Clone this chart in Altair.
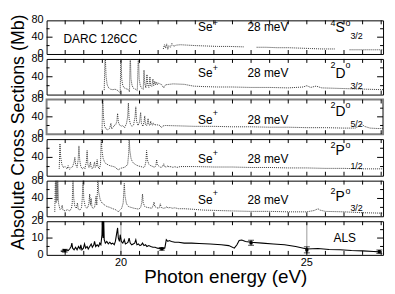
import altair as alt
import pandas as pd

FONT = "Liberation Sans"

# ---------------- data ----------------
x_ticks = [18.5, 19.0, 19.5, 20.0, 20.5, 21.0, 21.5, 22.0, 22.5,
           23.0, 23.5, 24.0, 24.5, 25.0, 25.5, 26.0, 26.5, 27.0]
x_labels = [20, 25]
y_labels_theory = [0, 40, 80]
y_labels_als = [0, 10, 20]

# 4S°3/2
s4_e = [21.14, 21.17, 21.20, 21.23, 21.26, 21.29, 21.33, 21.37, 21.42, 21.48,
        21.60, 21.80, 22.00, 22.30, 22.60, 22.90, 23.30,
        23.65, 23.90, 24.20, 24.50, 24.80, 25.10, 25.40, 25.75,
        26.15, 26.50, 26.80, 27.05]
s4_v = [12, 22, 14, 24, 11, 20, 16, 25, 18, 21,
        22, 21, 20, 19, 18, 18, 17,
        16, 16, 15, 15, 14, 13, 12, 12,
        10, 10, 10, 10]
s4_seg = [0, 0, 0, 0, 0, 0, 0, 0, 0, 0,
          0, 0, 0, 0, 0, 0, 0,
          1, 1, 1, 1, 1, 1, 1, 1,
          2, 2, 2, 2]

# 2D°3/2
d3_e = [19.55, 19.575, 19.60, 19.63, 19.67, 19.72, 19.78, 19.84, 19.90, 19.95,
        19.98, 20.00, 20.02, 20.05, 20.09, 20.14, 20.19, 20.23, 20.25, 20.27,
        20.30, 20.34, 20.39, 20.44, 20.47, 20.49, 20.52, 20.56, 20.60, 20.62,
        20.64, 20.67, 20.70, 20.72, 20.75, 20.78, 20.80, 20.83, 20.86, 20.88,
        20.91, 20.93, 20.96, 20.98, 21.01, 21.05, 21.10, 21.15, 21.20, 21.40,
        21.70, 21.95, 22.20, 22.60, 23.00, 23.50, 24.00, 24.50, 24.90, 25.00,
        25.10, 25.25, 25.40, 25.80, 26.20, 26.60, 27.05]
d3_v = [10, 95, 40, 22, 15, 12, 11, 12, 10, 6,
        3, 95, 35, 20, 15, 13, 12, 6, 95, 35,
        20, 14, 12, 9, 95, 35, 20, 14, 12, 55,
        25, 15, 45, 22, 16, 40, 20, 18, 35, 20,
        30, 22, 28, 22, 26, 24, 22, 15, 22, 24,
        23, 19, 18, 17, 17, 16, 16, 15, 17, 20,
        16, 19, 15, 14, 13, 12, 11]

# 2D°5/2
d5_e = [19.49, 19.51, 19.53, 19.56, 19.60, 19.65, 19.70, 19.73, 19.75, 19.78,
        19.82, 19.86, 19.89, 19.91, 19.93, 19.96, 20.00, 20.05, 20.10, 20.15,
        20.18, 20.20, 20.22, 20.26, 20.30, 20.34, 20.38, 20.40, 20.42, 20.46,
        20.50, 20.53, 20.55, 20.59, 20.62, 20.64, 20.66, 20.70, 20.73, 20.75,
        20.78, 20.80, 20.82, 20.85, 20.87, 20.90, 20.95, 21.00, 21.05, 21.09,
        21.13, 21.20, 21.60, 22.00, 22.50, 23.00, 23.50, 24.00, 24.50, 25.00,
        25.50, 26.00, 26.30, 26.42, 26.48, 26.55, 26.70, 26.90, 27.05]
d5_v = [0, 95, 40, 18, 12, 10, 14, 25, 12, 15,
        20, 22, 30, 48, 28, 22, 18, 20, 15, 25,
        40, 72, 35, 22, 18, 22, 40, 63, 30, 20,
        28, 50, 25, 18, 28, 42, 22, 20, 36, 22,
        20, 30, 22, 21, 26, 21, 22, 21, 20, 15,
        19, 20, 19, 18, 18, 17, 17, 16, 16, 15,
        15, 14, 14, 19, 23, 18, 14, 13, 13]

# 2P°1/2
p1_e = [18.34, 18.36, 18.38, 18.41, 18.45, 18.50, 18.55, 18.58,
        18.62, 18.66, 18.70, 18.74, 18.76, 18.78, 18.82, 18.85,
        18.87, 18.89, 18.92, 18.96, 19.00, 19.03, 19.07, 19.09,
        19.11, 19.14, 19.16, 19.18, 19.20, 19.23, 19.26, 19.29,
        19.31, 19.34, 19.36, 19.38, 19.42, 19.45, 19.47, 19.49,
        19.52, 19.56, 19.60, 19.65, 19.70, 19.75, 19.80, 19.86,
        19.90, 19.94, 19.98, 20.03, 20.08, 20.13, 20.18, 20.21,
        20.22, 20.24, 20.27, 20.31, 20.36, 20.42, 20.48, 20.54,
        20.60, 20.64, 20.67, 20.69, 20.71, 20.75, 20.80, 20.86,
        20.90, 20.94, 20.96, 20.98, 21.03, 21.08, 21.12, 21.15,
        21.17, 21.22, 21.27, 21.29, 21.35, 21.40, 21.45, 21.50,
        21.60, 22.00, 22.50, 23.00, 23.50, 24.00, 24.50, 25.00,
        25.50, 26.00, 26.50, 27.05]
p1_v = [15, 70, 40, 25, 18, 20, 15, 22,
        14, 18, 20, 30, 40, 25, 18, 35,
        65, 35, 20, 15, 18, 15, 30, 55,
        25, 18, 22, 30, 18, 15, 20, 30,
        18, 22, 35, 20, 15, 25, 85, 55,
        38, 30, 26, 24, 22, 21, 20, 18,
        14, 13, 16, 17, 18, 20, 25, 50,
        85, 55, 38, 30, 26, 23, 21, 20,
        18, 20, 30, 55, 35, 25, 22, 20,
        18, 22, 35, 24, 20, 18, 20, 26,
        20, 19, 22, 19, 20, 18, 20, 18,
        20, 20, 19, 19, 18, 18, 17, 17,
        16, 16, 15, 15]

# 2P°3/2
p3_e = [18.22, 18.24, 18.255, 18.27, 18.285, 18.30, 18.32, 18.36,
        18.40, 18.42, 18.44, 18.50, 18.56, 18.62, 18.67, 18.69,
        18.71, 18.73, 18.76, 18.80, 18.83, 18.85, 18.90, 18.94,
        18.96, 18.98, 19.00, 19.04, 19.08, 19.11, 19.14, 19.16,
        19.18, 19.20, 19.22, 19.26, 19.29, 19.31, 19.33, 19.35,
        19.37, 19.38, 19.40, 19.44, 19.49, 19.55, 19.62, 19.70,
        19.78, 19.85, 19.90, 19.93, 19.97, 20.02, 20.06, 20.09,
        20.11, 20.15, 20.20, 20.27, 20.35, 20.42, 20.48, 20.53,
        20.56, 20.58, 20.60, 20.64, 20.70, 20.77, 20.83, 20.87,
        20.89, 20.91, 20.97, 21.02, 21.04, 21.06, 21.08, 21.14,
        21.20, 21.24, 21.27, 21.32, 21.38, 21.45, 21.55, 21.70,
        21.90, 22.20, 22.60, 23.00, 23.50, 24.00, 24.50, 25.00,
        25.20, 25.30, 25.35, 25.50, 26.00, 26.50, 27.05]
p3_v = [10, 95, 30, 95, 35, 90, 30, 15,
        18, 25, 14, 12, 15, 12, 18, 30,
        95, 40, 22, 18, 30, 16, 14, 20,
        40, 95, 38, 22, 18, 20, 30, 50,
        25, 40, 20, 18, 20, 30, 45, 25,
        60, 95, 55, 38, 30, 26, 22, 20,
        17, 15, 12, 10, 14, 18, 30, 74,
        45, 28, 22, 20, 18, 17, 16, 20,
        30, 50, 30, 22, 20, 19, 18, 25,
        32, 22, 19, 18, 22, 28, 20, 18,
        19, 22, 18, 20, 18, 19, 17, 17,
        16, 14, 13, 12, 11, 11, 10, 10,
        13, 17, 14, 11, 10, 8, 7]

# ALS measurement
als_e = [18.38, 18.42, 18.46, 18.50, 18.54, 18.58, 18.62, 18.66,
         18.68, 18.70, 18.74, 18.78, 18.82, 18.86, 18.90, 18.92,
         18.95, 18.99, 19.02, 19.05, 19.09, 19.12, 19.16, 19.20,
         19.23, 19.27, 19.29, 19.32, 19.36, 19.40, 19.43, 19.46,
         19.49, 19.50, 19.52, 19.535, 19.55, 19.58, 19.62, 19.66,
         19.70, 19.74, 19.78, 19.82, 19.85, 19.88, 19.91, 19.93,
         19.96, 19.98, 20.01, 20.05, 20.09, 20.12, 20.16, 20.19,
         20.22, 20.25, 20.29, 20.33, 20.37, 20.40, 20.43, 20.47,
         20.51, 20.55, 20.58, 20.62, 20.66, 20.70, 20.75, 20.80,
         20.86, 20.92, 20.98, 21.05, 21.12, 21.18, 21.20, 21.22,
         21.26, 21.30, 21.36, 21.45, 21.55, 21.70, 21.90, 22.10,
         22.40, 22.70, 22.90, 23.05, 23.12, 23.18, 23.25, 23.35,
         23.50, 23.80, 24.10, 24.40, 24.70, 25.00, 25.30, 25.60,
         25.90, 26.20, 26.50, 26.80, 26.95]
als_v = [2.5, 2.0, 3.2, 2.2, 3.0, 2.5, 3.5, 5.0,
         7.0, 4.0, 3.0, 4.5, 3.0, 5.0, 3.5, 6.0,
         3.0, 4.0, 6.5, 4.0, 5.0, 3.5, 5.0, 6.5,
         4.5, 6.0, 8.0, 5.0, 6.0, 5.0, 7.0, 6.0,
         12.0, 22.0, 10.0, 22.0, 9.0, 7.0, 8.0, 6.5,
         7.5, 6.5, 7.0, 6.0, 8.0, 12.0, 16.0, 10.0,
         8.0, 12.0, 8.0, 7.0, 9.0, 6.5, 7.0, 7.5,
         10.0, 7.0, 6.0, 6.5, 7.0, 9.0, 6.0, 6.5,
         5.5, 6.0, 7.0, 5.5, 6.0, 5.0, 5.5, 5.0,
         4.5, 4.5, 4.0, 3.8, 3.6, 4.0, 6.5, 9.0,
         8.0, 8.5, 8.0, 7.5, 7.5, 7.0, 7.0, 6.8,
         6.5, 6.0, 5.5, 4.0, 6.0, 8.5, 8.8, 8.0,
         7.5, 7.0, 6.5, 6.0, 5.0, 3.5, 3.8, 3.2,
         3.0, 2.6, 2.4, 2.0, 1.8]

err_e = [18.49, 21.10, 23.50, 25.00, 26.95]
err_v = [2.5, 3.6, 7.2, 3.0, 1.9]
err_d = [0.8, 0.8, 1.5, 1.8, 1.0]

# ---------------- chart ----------------
W = 340
XS = alt.Scale(domain=[18, 27.05], nice=False, zero=False)
XE = alt.X("e:Q", scale=XS, axis=None)


def txt(s, x, y, size, align="left", angle=0):
    return alt.Chart(pd.DataFrame({"t": [s]})).mark_text(
        align=align, baseline="middle", fontSize=size, font=FONT,
        color="black", angle=angle
    ).encode(text="t:N", x=alt.value(x), y=alt.value(y))


def frame(H, ys, ylabels, ymaj, ymin):
    xt = pd.DataFrame({"e": x_ticks})
    top = alt.Chart(xt).mark_rule(color="black", strokeWidth=1).encode(
        x=XE, y=alt.value(0), y2=alt.value(4))
    bot = alt.Chart(xt).mark_rule(color="black", strokeWidth=1).encode(
        x=XE, y=alt.value(H), y2=alt.value(H - 4))
    layers = [top, bot]
    for vals, ln in ((ymaj, 6), (ymin, 3)):
        d = pd.DataFrame({"v": vals})
        yv = alt.Y("v:Q", scale=ys, axis=None)
        layers.append(alt.Chart(d).mark_rule(color="black").encode(
            y=yv, x=alt.value(0), x2=alt.value(ln)))
        layers.append(alt.Chart(d).mark_rule(color="black").encode(
            y=yv, x=alt.value(W - ln), x2=alt.value(W)))
    lab = pd.DataFrame({"v": ylabels, "t": [str(v) for v in ylabels]})
    layers.append(alt.Chart(lab).mark_text(
        align="right", baseline="middle", fontSize=11, font=FONT, color="black"
    ).encode(y=alt.Y("v:Q", scale=ys, axis=None), x=alt.value(-3), text="t:N"))
    return layers


def term_labels(sup, letter, sub, yse, yplus, ysup, yl, ysub):
    return [
        txt("Se", 153, yse, 12),
        txt("+", 168, yplus, 9),
        txt("28 meV", 203, yse, 12),
        txt(sup, 287, ysup, 9),
        txt(letter, 292, yl, 14),
        txt("o", 302, ysup, 9),
        txt(sub, 307, ysub, 9),
    ]


def theory_panel(e, v, H, texts, seg=None, stroke="black", sw=1):
    df = pd.DataFrame({"e": e, "v": v,
                       "seg": seg if seg is not None else [0] * len(e)})
    ys = alt.Scale(domain=[0, 80], nice=False, zero=True)
    line = alt.Chart(df).mark_line(
        clip=True, color="#222", strokeWidth=0.9, strokeDash=[1, 1]
    ).encode(
        x=XE,
        y=alt.Y("v:Q", scale=ys, axis=None),
        detail="seg:N",
    )
    layers = [line] + frame(H, ys, y_labels_theory, [40], [20, 60]) + texts
    return alt.layer(*layers).properties(
        width=W, height=H,
        view=alt.ViewBackground(stroke=stroke, strokeWidth=sw))


H1, H2, H3, H4, H5, H6 = 34, 36, 35, 37, 36, 34

p1 = theory_panel(s4_e, s4_v, H1,
                  [txt("DARC 126CC", 17, 19, 12)] +
                  term_labels("4", "S", "3/2", 6.5, 2.5, 3, 8, 16),
                  seg=s4_seg)
p2 = theory_panel(d3_e, d3_v, H2,
                  term_labels("2", "D", "3/2", 14, 9, 6, 15, 27))
p3 = theory_panel(d5_e, d5_v, H3,
                  term_labels("2", "D", "5/2", 20.5, 14, 6, 13, 24.5) +
                  [txt("Absolute Cross Sections (Mb)", -28, 33, 18,
                       align="center", angle=270)],
                  stroke="#808080", sw=2)
p4 = theory_panel(p1_e, p1_v, H4,
                  term_labels("2", "P", "1/2", 20.5, 14, 6, 12, 27))
p5 = theory_panel(p3_e, p3_v, H5,
                  term_labels("2", "P", "3/2", 19.5, 13, 10, 16.5, 28))

# ALS panel
ys6 = alt.Scale(domain=[0, 20], nice=False, zero=True)
als_df = pd.DataFrame({"e": als_e, "v": als_v})
err_df = pd.DataFrame({"e": err_e, "v": err_v,
                       "lo": [a - b for a, b in zip(err_v, err_d)],
                       "hi": [a + b for a, b in zip(err_v, err_d)]})
xl_df = pd.DataFrame({"e": x_labels, "t": [str(v) for v in x_labels]})

grid = alt.Chart(xl_df).mark_rule(color="#9a9a9a", strokeWidth=1).encode(
    x=XE, y=alt.value(0), y2=alt.value(H6))
als_line = alt.Chart(als_df).mark_line(clip=True, color="black", strokeWidth=1.1).encode(
    x=XE, y=alt.Y("v:Q", scale=ys6, axis=None))
err_rule = alt.Chart(err_df).mark_rule(color="black", strokeWidth=1).encode(
    x=XE, y=alt.Y("lo:Q", scale=ys6, axis=None), y2="hi:Q")
cap_lo = alt.Chart(err_df).mark_tick(color="black", orient="horizontal", size=6, thickness=1).encode(
    x=XE, y=alt.Y("lo:Q", scale=ys6, axis=None))
cap_hi = alt.Chart(err_df).mark_tick(color="black", orient="horizontal", size=6, thickness=1).encode(
    x=XE, y=alt.Y("hi:Q", scale=ys6, axis=None))
err_pt = alt.Chart(err_df).mark_point(color="black", filled=True, shape="square", size=10, opacity=1).encode(
    x=XE, y=alt.Y("v:Q", scale=ys6, axis=None))
x_lab = alt.Chart(xl_df).mark_text(
    align="center", baseline="middle", fontSize=11, font=FONT, color="black"
).encode(x=XE, y=alt.value(H6 + 8), text="t:N")

p6 = alt.layer(
    grid, als_line, err_rule, cap_lo, cap_hi, err_pt, x_lab,
    *frame(H6, ys6, y_labels_als, [10], [5, 15]),
    txt("ALS", 290, 17, 12),
    txt("Photon energy (eV)", 181, H6 + 22, 19, align="center"),
).properties(width=W, height=H6,
             view=alt.ViewBackground(stroke="black", strokeWidth=1))

chart = alt.vconcat(p1, p2, p3, p4, p5, p6, spacing=5, bounds="flush").properties(
    padding={"left": 0, "top": 3, "right": 2, "bottom": 0},
    background="white",
).configure(font=FONT)

chart.save("out.html", embed_options={"renderer": "svg", "actions": False})
